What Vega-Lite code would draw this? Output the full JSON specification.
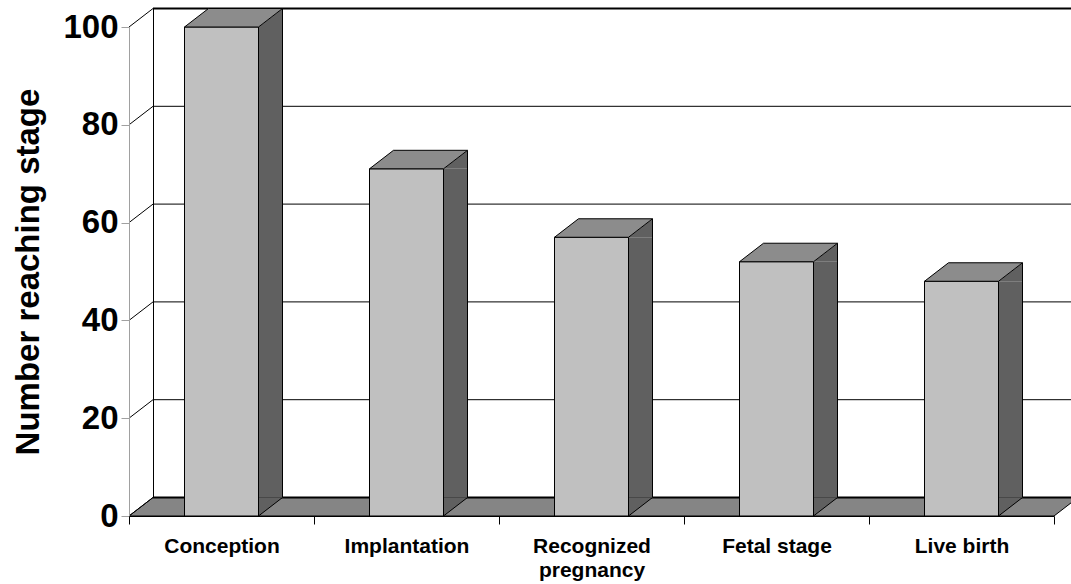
{
  "$schema": "https://vega.github.io/schema/vega-lite/v6.json",
  "width": 925,
  "height": 489,
  "autosize": {"type": "none"},
  "padding": {"left": 129, "top": 27, "right": 17, "bottom": 68},
  "background": "white",
  "config": {"view": {"stroke": null}, "font": "Liberation Sans"},
  "data": {
    "values": [
      {"stage": "Conception", "value": 100},
      {"stage": "Implantation", "value": 71},
      {"stage": "Recognized pregnancy", "value": 57},
      {"stage": "Fetal stage", "value": 52},
      {"stage": "Live birth", "value": 48}
    ]
  },
  "encoding": {
    "x": {
      "field": "stage",
      "type": "nominal",
      "sort": null,
      "scale": {"domain": ["Conception", "Implantation", "Recognized pregnancy", "Fetal stage", "Live birth"], "paddingInner": 0, "paddingOuter": 0},
      "axis": {
        "title": null,
        "orient": "bottom",
        "tickBand": "extent",
        "domainColor": "black",
        "domainWidth": 1,
        "tickColor": "black",
        "tickWidth": 1,
        "tickSize": 8,
        "labelFont": "Liberation Sans",
        "labelFontSize": 21,
        "labelFontWeight": "bold",
        "labelColor": "black",
        "labelPadding": 11,
        "labelAngle": 0,
        "labelLineHeight": 24,
        "labelLimit": 0,
        "labelExpr": "datum.label == 'Recognized pregnancy' ? ['Recognized', 'pregnancy'] : datum.label",
        "grid": false,
        "zindex": 2
      }
    }
  },
  "layer": [
    {
      "transform": [{"filter": "datum.stage == 'Recognized pregnancy'"}],
      "mark": {"type": "point", "shape": "M-462.5,0L-438.5,-18.5L486.5,-18.5L462.5,0Z", "size": 4, "filled": true, "fill": "#858585", "stroke": "black", "strokeWidth": 1, "opacity": 1},
      "encoding": {"y": {"datum": 0, "type": "quantitative", "axis": null}}
    },
    {
      "data": {"values": [{"level": 0}, {"level": 20}, {"level": 40}, {"level": 60}, {"level": 80}, {"level": 100}]},
      "mark": {"type": "point", "shape": "M-462.5,0L-438.5,-18.5", "size": 4, "filled": false, "fill": "transparent", "stroke": "black", "strokeWidth": 1, "opacity": 1},
      "encoding": {
        "x": {
          "datum": "Recognized pregnancy",
          "type": "nominal",
          "axis": {
            "title": null,
            "orient": "bottom",
            "tickBand": "extent",
            "domainColor": "black",
            "domainWidth": 1,
            "tickColor": "black",
            "tickWidth": 1,
            "tickSize": 8,
            "labelFont": "Liberation Sans",
            "labelFontSize": 21,
            "labelFontWeight": "bold",
            "labelColor": "black",
            "labelPadding": 11,
            "labelAngle": 0,
            "labelLineHeight": 24,
            "labelLimit": 0,
            "labelExpr": "datum.label == 'Recognized pregnancy' ? ['Recognized', 'pregnancy'] : datum.label",
            "grid": false,
            "zindex": 2
          }
        },
        "y": {"field": "level", "type": "quantitative", "axis": null}
      }
    },
    {
      "data": {"values": [{"level": 0}, {"level": 20}, {"level": 40}, {"level": 60}, {"level": 80}, {"level": 100}]},
      "mark": {"type": "point", "shape": "M-438.5,-18.5L486.5,-18.5", "size": 4, "filled": false, "fill": "transparent", "stroke": "black", "opacity": 1},
      "encoding": {
        "x": {
          "datum": "Recognized pregnancy",
          "type": "nominal",
          "axis": {
            "title": null,
            "orient": "bottom",
            "tickBand": "extent",
            "domainColor": "black",
            "domainWidth": 1,
            "tickColor": "black",
            "tickWidth": 1,
            "tickSize": 8,
            "labelFont": "Liberation Sans",
            "labelFontSize": 21,
            "labelFontWeight": "bold",
            "labelColor": "black",
            "labelPadding": 11,
            "labelAngle": 0,
            "labelLineHeight": 24,
            "labelLimit": 0,
            "labelExpr": "datum.label == 'Recognized pregnancy' ? ['Recognized', 'pregnancy'] : datum.label",
            "grid": false,
            "zindex": 2
          }
        },
        "y": {"field": "level", "type": "quantitative", "axis": null},
        "strokeWidth": {"condition": {"test": "datum.level % 100 == 0", "value": 2}, "value": 1}
      }
    },
    {
      "mark": {"type": "point", "shape": "M37,0L61,-18.5L37,-18.5Z", "size": 4, "filled": true, "fill": "#606060", "strokeWidth": 0, "opacity": 1},
      "encoding": {"y": {"datum": 0, "type": "quantitative", "axis": null}}
    },
    {
      "mark": {"type": "point", "shape": "M37,0L61,-18.5", "size": 4, "filled": false, "fill": "transparent", "stroke": "black", "strokeWidth": 1, "opacity": 1},
      "encoding": {"y": {"datum": 0, "type": "quantitative", "axis": null}}
    },
    {
      "mark": {"type": "bar", "width": 24, "xOffset": 49, "y2Offset": -18.5, "fill": "#606060", "strokeWidth": 0},
      "encoding": {
        "y": {
          "field": "value",
          "type": "quantitative",
          "scale": {"domain": [0, 100], "nice": false},
          "axis": {
            "orient": "left",
            "title": null,
            "labels": false,
            "domain": true,
            "domainColor": "black",
            "domainWidth": 1,
            "grid": false,
            "ticks": false,
            "values": [0, 20, 40, 60, 80, 100],
            "translate": 24.5,
            "position": -42.5,
            "zindex": 0
          }
        },
        "y2": {"datum": 0}
      }
    },
    {
      "mark": {"type": "point", "shape": "M37,0L61,-18.5L61,0Z", "size": 4, "filled": true, "fill": "#606060", "strokeWidth": 0, "opacity": 1},
      "encoding": {"y": {"field": "value", "type": "quantitative", "axis": null}}
    },
    {
      "mark": {"type": "bar", "width": {"band": 0.4}, "fill": "#c0c0c0", "stroke": "black", "strokeWidth": 1},
      "encoding": {
        "y": {
          "field": "value",
          "type": "quantitative",
          "scale": {"domain": [0, 100], "nice": false},
          "axis": {
            "orient": "left",
            "title": "Number reaching stage",
            "titleFont": "Liberation Sans",
            "titleFontSize": 33,
            "titleFontWeight": "bold",
            "titleColor": "black",
            "titlePadding": 17,
            "labelFont": "Liberation Sans",
            "labelFontSize": 33,
            "labelFontWeight": "bold",
            "labelColor": "black",
            "labelPadding": 3,
            "tickSize": 8,
            "tickColor": "#a0a0a0",
            "domainColor": "#a0a0a0",
            "grid": false,
            "values": [0, 20, 40, 60, 80, 100],
            "zindex": 1
          }
        },
        "y2": {"datum": 0}
      }
    },
    {
      "mark": {"type": "point", "shape": "M-37,0L-13,-18.5L61,-18.5L37,0Z", "size": 4, "filled": true, "fill": "#8c8c8c", "stroke": "black", "strokeWidth": 1, "opacity": 1},
      "encoding": {"y": {"field": "value", "type": "quantitative", "axis": null}}
    },
    {
      "mark": {"type": "rule", "xOffset": 61, "x2Offset": 61, "yOffset": -18.5, "y2Offset": -18.5, "stroke": "black", "strokeWidth": 1},
      "encoding": {
        "y": {"field": "value", "type": "quantitative", "axis": null},
        "y2": {"datum": 0}
      }
    }
  ],
  "resolve": {"axis": {"y": "independent"}}
}
